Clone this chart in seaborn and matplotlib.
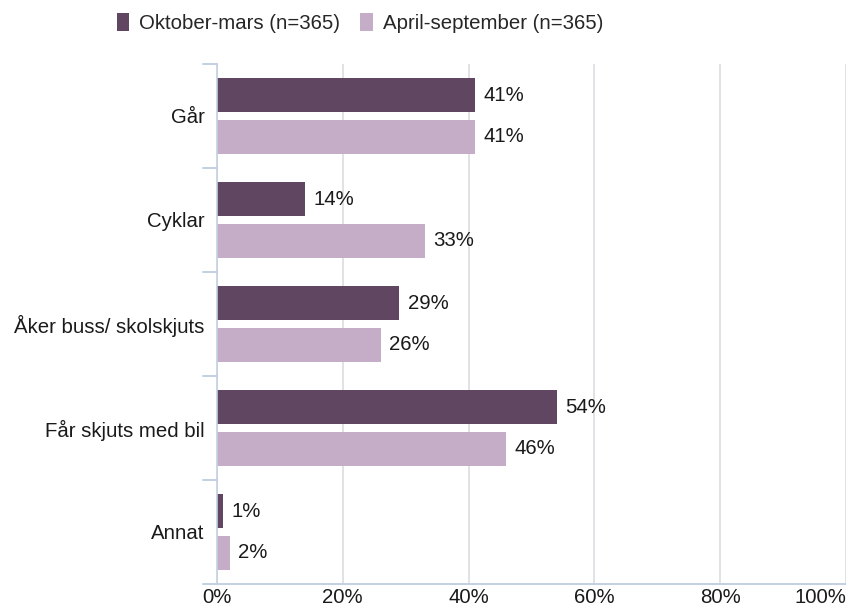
import matplotlib
matplotlib.use("Agg")
import matplotlib.pyplot as plt
import seaborn as sns
import pandas as pd
from matplotlib.patches import Patch

# data
kategorier = ["Går", "Cyklar", "Åker buss/ skolskjuts", "Får skjuts med bil", "Annat"]
oktober_mars = [41, 14, 29, 54, 1]
april_september = [41, 33, 26, 46, 2]
serier = ["Oktober-mars (n=365)", "April-september (n=365)"]
farger = ["#614662", "#c5adc7"]
xticks = [0, 20, 40, 60, 80, 100]

df = pd.DataFrame({
    "kategori": kategorier * 2,
    "varde": oktober_mars + april_september,
    "serie": [serier[0]] * len(kategorier) + [serier[1]] * len(kategorier),
})

sns.set_style("white")
plt.rcParams["font.family"] = ["Liberation Sans", "DejaVu Sans"]
fs = 14.7
textfarg = "#1a1a1a"
linjefarg = "#c3d0e2"

fig, ax = plt.subplots(figsize=(8.46, 6.07), dpi=100)
fig.subplots_adjust(left=0.2565, right=1.0, top=0.8946, bottom=0.0379)

sns.barplot(data=df, y="kategori", x="varde", hue="serie", orient="h",
            palette=farger, width=0.8, ax=ax, legend=False, saturation=1)

# gap between the two bars in each group
for p in ax.patches:
    p.set_height(p.get_height() - 0.075)
    p.set_y(p.get_y() + 0.0375)
    p.set_linewidth(0)

for cont in ax.containers:
    ax.bar_label(cont, labels=[f"{v:.0f}%" for v in cont.datavalues],
                 padding=6, fontsize=fs, color=textfarg)

ax.set_xlim(0, 100)
ax.set_ylim(len(kategorier) - 0.5, -0.5)
ax.set_xticks(xticks)
ax.set_xticklabels([f"{t}%" for t in xticks])
ax.set_xlabel("")
ax.set_ylabel("")
ax.tick_params(axis="y", length=0, labelsize=fs, pad=9)
ax.tick_params(axis="x", length=0, labelsize=fs, pad=3)
for lbl in ax.get_xticklabels() + ax.get_yticklabels():
    lbl.set_color(textfarg)
# keep the last label inside the picture
ax.get_xticklabels()[-1].set_horizontalalignment("right")

ax.grid(axis="x", color="#dcdde2", linewidth=1.2)
ax.grid(axis="y", visible=False)
ax.set_axisbelow(True)

for s in ["top", "right"]:
    ax.spines[s].set_visible(False)
ax.spines["left"].set_color(linjefarg)
ax.spines["bottom"].set_color(linjefarg)
ax.spines["left"].set_linewidth(1.2)
ax.spines["bottom"].set_linewidth(1.4)

# tick marks between the categories
for b in [i - 0.5 for i in range(len(kategorier) + 1)]:
    ax.plot([-0.0222, 0], [b, b], transform=ax.get_yaxis_transform(),
            color=linjefarg, linewidth=1.4, clip_on=False)

handles = [Patch(facecolor=c, edgecolor="none") for c in farger]
fig.legend(handles, serier, loc="center", bbox_to_anchor=(0.4255, 0.962),
           ncol=2, frameon=False, fontsize=fs, handlelength=0.6,
           handleheight=1.0, handletextpad=0.5, columnspacing=1.0)

fig.savefig("out.png", dpi=100)
